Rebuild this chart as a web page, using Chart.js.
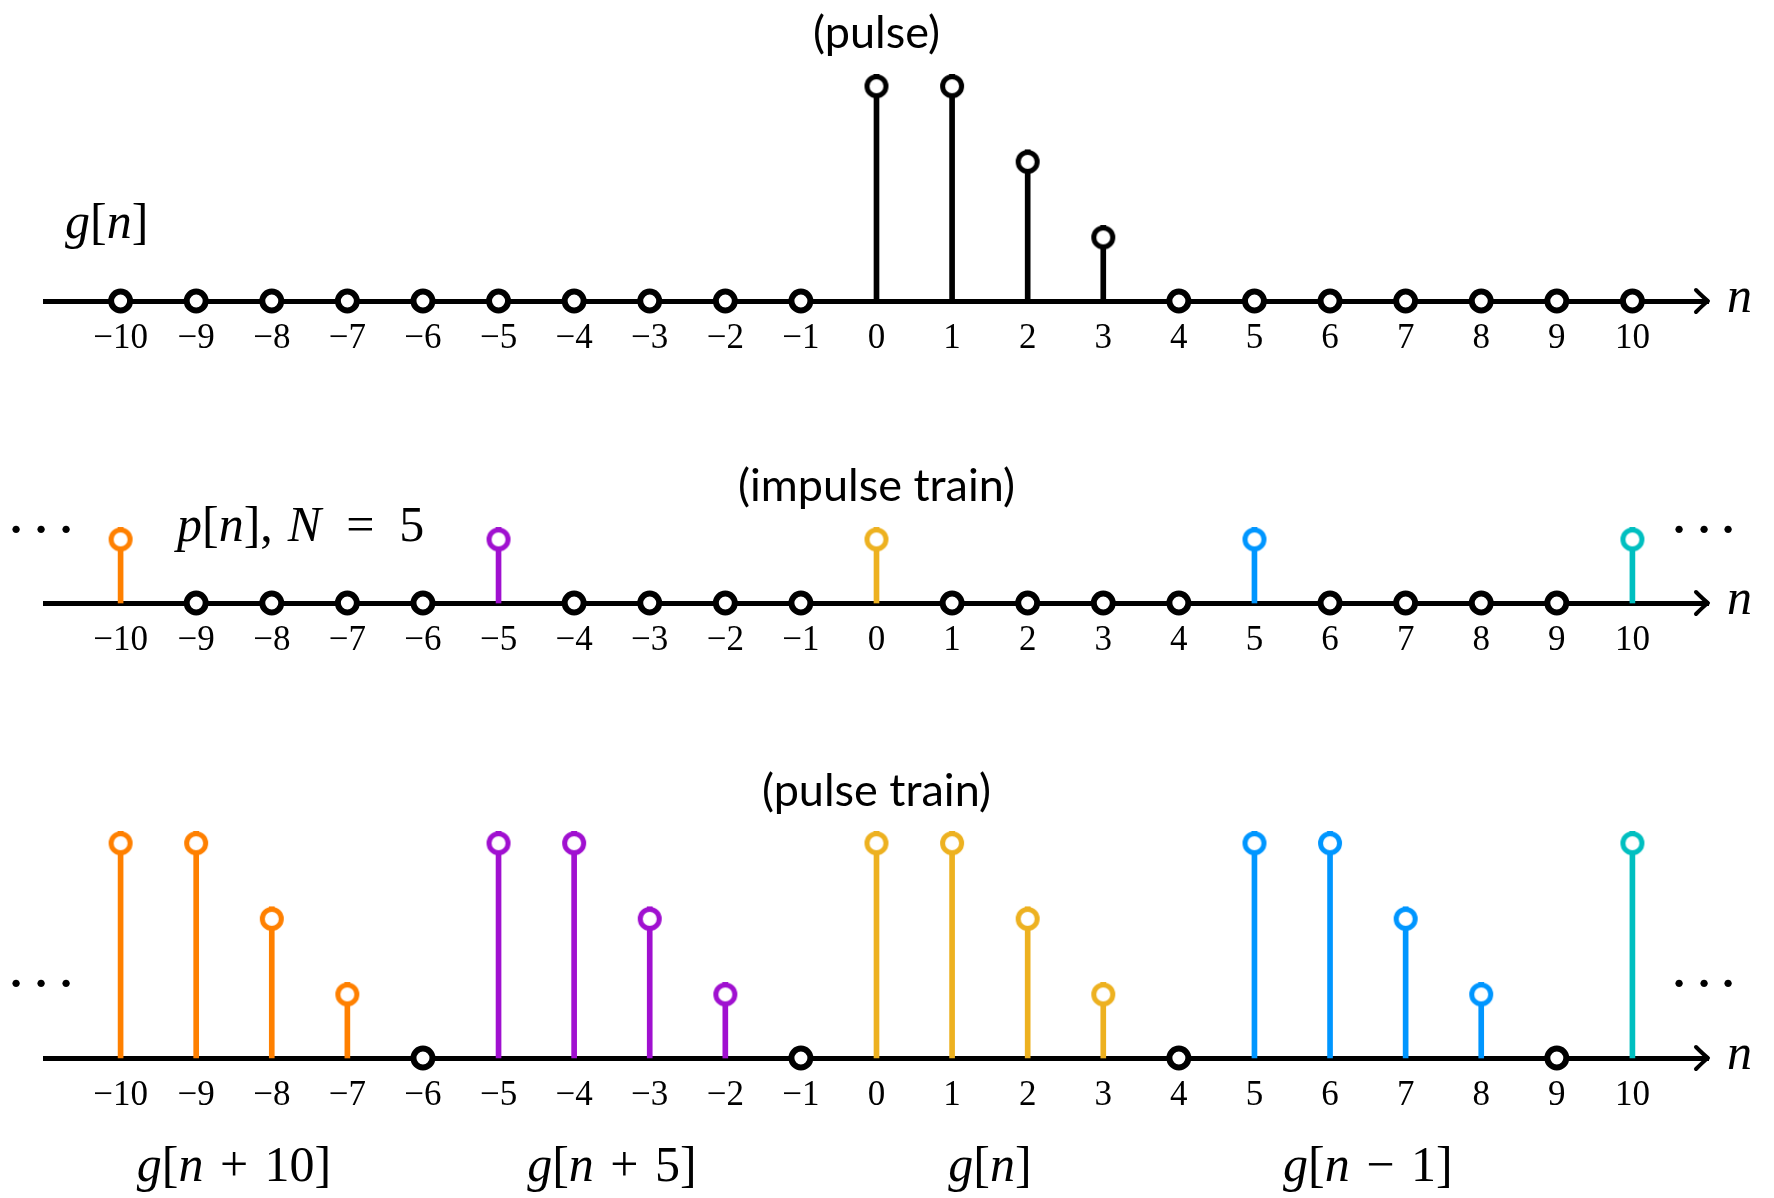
<!DOCTYPE html>
<html>
<head>
<meta charset="utf-8">
<script src="https://cdn.jsdelivr.net/npm/chart.js@4"></script>
<style>
  html, body { margin: 0; padding: 0; background: #fff; }
  #fig { position: relative; width: 1774px; height: 1198px; background: #fff; overflow: hidden; }
  #fig canvas { position: absolute; left: 0; }
</style>
</head>
<body>
<div id="fig">
  <canvas id="pulse" width="1774" height="370" style="top:0px"></canvas>
  <canvas id="impulse" width="1774" height="330" style="top:370px"></canvas>
  <canvas id="train" width="1774" height="498" style="top:700px"></canvas>
</div>
<script>
// Sample index n on every axis
const nTicks = [-10, -9, -8, -7, -6, -5, -4, -3, -2, -1, 0, 1, 2, 3, 4, 5, 6, 7, 8, 9, 10];

// g[n]: the nonzero samples of the pulse
const pulseN = [0, 1, 2, 3];
const pulseV = [3, 3, 2, 1];

// p[n]: impulse train with period N = 5
const impulseN = [-10, -5, 0, 5, 10];
const impulseV = [1, 1, 1, 1, 1];

// Pulse train: the nonzero samples of the periodic copies of g[n]
const trainN = [-10, -9, -8, -7, -5, -4, -3, -2, 0, 1, 2, 3, 5, 6, 7, 8, 10];
const trainV = [3, 3, 2, 1, 3, 3, 2, 1, 3, 3, 2, 1, 3, 3, 2, 1, 3];

// Names of the shifted copies written under the pulse train, and the n they sit under
// (a number in a run is a gap in em)
const copyLabels = [
  [['g', 1], ['[', 0], ['n', 1], 0.33, ['+', 0], 0.33, ['10]', 0]],
  [['g', 1], ['[', 0], ['n', 1], 0.33, ['+', 0], 0.33, ['5]', 0]],
  [['g', 1], ['[', 0], ['n', 1], [']', 0]],
  [['g', 1], ['[', 0], ['n', 1], 0.33, ['\u2212', 0], 0.33, ['1]', 0]]
];
const copyLabelN = [-8.5, -3.5, 1.5, 6.5];

// ---- styling ----
const INK = '#000000';
const blockColours = ['#FF8000', '#A010D0', '#EDB120', '#0096FF', '#00BFC0'];
function blockColour(n) { return blockColours[Math.min(4, Math.floor((n + 10) / 5))]; }

const RING_R = 9.5, RING_W = 5, RING_OUT = RING_R + RING_W / 2;
const ZERO_R = 9.5, ZERO_W = 6;
const MATH = '"Liberation Serif", "DejaVu Serif", serif';
const SANS = 'Lato, "Open Sans", "Noto Sans", sans-serif';
const MATH_SIZE = 50;

// A ring whose top edge touches the sample value: drawn in the lower half of a
// canvas that Chart.js centres on the point.
const ringCache = {};
function ringImage(colour) {
  if (ringCache[colour]) return ringCache[colour];
  const c = document.createElement('canvas');
  const half = Math.ceil(2 * RING_OUT) + 1;
  c.width = 2 * Math.ceil(RING_OUT) + 2;
  c.height = 2 * half;
  const g = c.getContext('2d');
  g.beginPath();
  g.arc(c.width / 2, half + RING_OUT, RING_R, 0, 2 * Math.PI);
  g.fillStyle = '#fff';
  g.fill();
  g.lineWidth = RING_W;
  g.strokeStyle = colour;
  g.stroke();
  ringCache[colour] = c;
  return c;
}

function tickText(v) { return v < 0 ? '\u2212' + (-v) : String(v); }

function drawRuns(ctx, runs, x, y, size, align) {
  const fontOf = (it) => (it ? 'italic ' : '') + size + 'px ' + MATH;
  const widthOf = (r) => {
    if (typeof r === 'number') return r * size;
    ctx.font = fontOf(r[1]);
    return ctx.measureText(r[0]).width;
  };
  const w = runs.reduce((s, r) => s + widthOf(r), 0);
  let cx = align === 'center' ? x - w / 2 : x;
  ctx.textAlign = 'left';
  ctx.textBaseline = 'alphabetic';
  runs.forEach(r => {
    if (typeof r !== 'number') {
      ctx.font = fontOf(r[1]);
      ctx.fillText(r[0], cx, y);
    }
    cx += widthOf(r);
  });
}

// Arrow head on the n axis plus the panel's titles and labels
const decorations = {
  id: 'decorations',
  afterDraw(chart, args, opts) {
    const ctx = chart.ctx;
    const xs = chart.scales.x;
    const area = chart.chartArea;
    const y0 = area.bottom;
    const tip = xs.getPixelForValue(xs.max);
    ctx.save();
    ctx.fillStyle = INK;
    ctx.strokeStyle = INK;

    // arrow head
    ctx.lineWidth = 4;
    ctx.lineCap = 'round';
    ctx.lineJoin = 'round';
    ctx.beginPath();
    ctx.moveTo(tip - 12, y0 - 11);
    ctx.quadraticCurveTo(tip - 4, y0 - 3, tip, y0);
    ctx.quadraticCurveTo(tip - 4, y0 + 3, tip - 12, y0 + 11);
    ctx.stroke();

    // axis name
    drawRuns(ctx, [['n', 1]], tip + 19, y0 + 11, MATH_SIZE, 'left');

    // title
    ctx.font = '45px ' + SANS;
    ctx.textAlign = 'center';
    ctx.textBaseline = 'middle';
    ctx.fillText(opts.title, xs.getPixelForValue(0), opts.titleY);

    // signal name
    if (opts.name) drawRuns(ctx, opts.name, opts.nameX, opts.nameY, MATH_SIZE, 'left');

    // continuation dots
    if (opts.dotsY !== undefined) {
      ctx.font = '62px ' + MATH;
      ctx.textAlign = 'center';
      ctx.textBaseline = 'middle';
      [16, 41, 66, 1679, 1704, 1728].forEach(x => ctx.fillText('\u00b7', x, opts.dotsY));
    }

    // copy labels
    if (opts.copies) {
      opts.copies.forEach((runs, i) => {
        drawRuns(ctx, runs, xs.getPixelForValue(copyLabelN[i]), opts.copiesY, MATH_SIZE, 'center');
      });
    }
    ctx.restore();
  }
};

function stemChart(id, nz, vals, colourOf, layout, deco) {
  const raised = nz.map((n, i) => ({ x: n, y: vals[i] }));
  const zeros = nTicks.filter(n => !nz.includes(n)).map(n => ({ x: n, y: 0 }));
  const colours = nz.map(colourOf);
  return new Chart(document.getElementById(id), {
    type: 'bar',
    data: {
      datasets: [
        {
          type: 'scatter', data: zeros, clip: false,
          pointStyle: 'circle', pointRadius: ZERO_R, pointBorderWidth: ZERO_W,
          pointBackgroundColor: '#fff', pointBorderColor: INK
        },
        {
          type: 'scatter', data: raised, clip: false,
          pointStyle: colours.map(ringImage), pointRadius: RING_R
        },
        {
          type: 'bar', data: raised, clip: false,
          backgroundColor: colours, borderWidth: 0, barThickness: 5
        }
      ]
    },
    options: {
      responsive: false,
      animation: false,
      events: [],
      layout: { padding: { left: 45, right: 66, top: layout.top, bottom: 0 } },
      plugins: {
        legend: { display: false },
        tooltip: { enabled: false },
        decorations: deco
      },
      scales: {
        x: {
          type: 'linear', min: -11, max: 11, offset: false,
          grid: { display: false, drawTicks: false },
          border: { display: true, width: 5, color: INK },
          afterBuildTicks: s => { s.ticks = nTicks.map(v => ({ value: v })); },
          afterFit: s => { s.height = layout.axisH; },
          ticks: {
            autoSkip: false, maxRotation: 0, minRotation: 0, padding: 17, color: INK,
            font: { family: MATH, size: 35 },
            callback: v => tickText(v)
          }
        },
        y: { display: false, min: 0, max: layout.ymax }
      }
    },
    plugins: [decorations]
  });
}

const UNIT = (1708 - 45) / 22;   // pixels per sample step, same vertically

stemChart('pulse', pulseN, pulseV, () => INK,
  { top: 301 - 3 * UNIT, axisH: 370 - 301, ymax: 3 },
  { title: '(pulse)', titleY: 33,
    name: [['g', 1], ['[', 0], ['n', 1], [']', 0]], nameX: 65, nameY: 238 });

stemChart('impulse', impulseN, impulseV, blockColour,
  { top: 233 - 1 * UNIT, axisH: 330 - 233, ymax: 1 },
  { title: '(impulse train)', titleY: 116,
    name: [['p', 1], ['[', 0], ['n', 1], [']', 0], [',', 0], 0.3, ['N', 1], 0.5, ['=', 0], 0.5, ['5', 0]],
    nameX: 177, nameY: 171,
    dotsY: 164 });

stemChart('train', trainN, trainV, blockColour,
  { top: 358 - 3 * UNIT, axisH: 498 - 358, ymax: 3 },
  { title: '(pulse train)', titleY: 91, dotsY: 288,
    copies: copyLabels, copiesY: 481 });
</script>
</body>
</html>
